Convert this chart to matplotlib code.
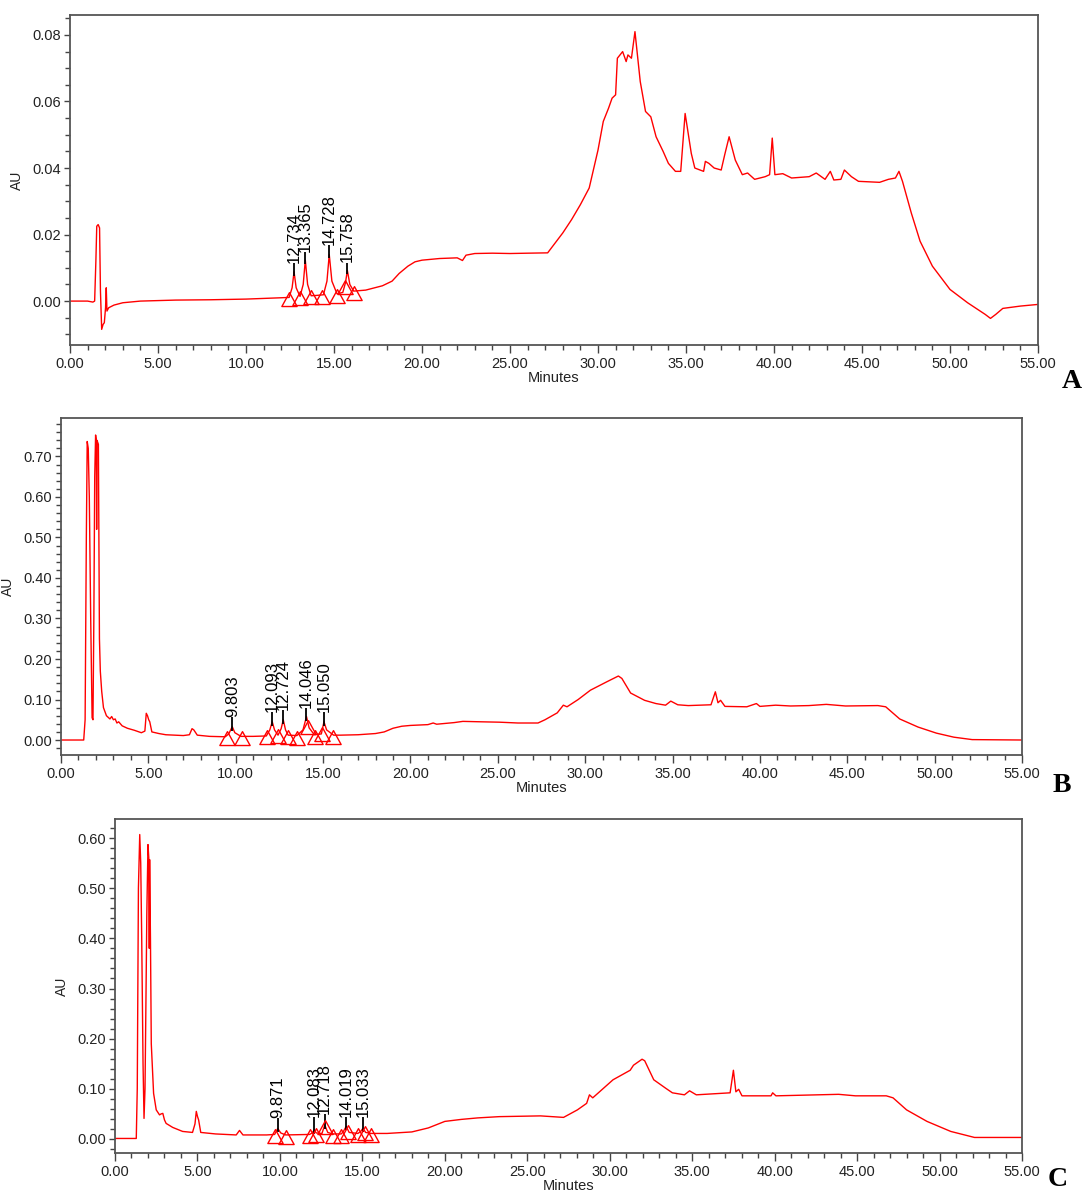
import numpy as np
import matplotlib
matplotlib.use("Agg")
import matplotlib.pyplot as plt
from matplotlib.path import Path
from matplotlib.ticker import MultipleLocator, FormatStrFormatter

plt.rcParams["font.family"] = ["Liberation Sans", "DejaVu Sans"]

# ---- panel A trace (minutes, AU) ----
a_time = [0.0, 1.0, 1.3, 1.4, 1.47, 1.52, 1.6, 1.68, 1.73, 1.8, 1.88, 1.95, 2.02, 2.06, 2.1,
          2.2, 2.5, 3.0, 4.0, 6.0, 8.0, 10.0, 12.0, 12.45, 12.62, 12.73, 12.85, 13.07, 13.25,
          13.37, 13.5, 13.7, 14.0, 14.4, 14.6, 14.73, 14.88, 15.17, 15.5, 15.65, 15.76, 15.9,
          16.12, 16.8, 17.75, 18.3, 18.7, 19.2, 19.6, 20.0, 21.0, 22.0, 22.3, 22.5, 23.0, 24.0,
          25.0, 26.0, 27.14, 28.0, 28.5, 29.0, 29.5, 30.0, 30.3, 30.6, 30.8, 31.0, 31.1, 31.4,
          31.6, 31.7, 31.9, 32.1, 32.4, 32.7, 33.0, 33.3, 33.7, 34.0, 34.4, 34.7, 34.95, 35.3,
          35.5, 36.0, 36.1, 36.3, 36.6, 37.0, 37.2, 37.45, 37.8, 38.2, 38.5, 38.9, 39.5, 39.75,
          39.9, 40.05, 40.5, 41.0, 42.0, 42.4, 42.9, 43.2, 43.4, 43.8, 44.0, 44.4, 44.8, 46.0,
          46.5, 46.9, 47.1, 47.3, 47.8, 48.3, 49.0, 50.0, 51.0, 52.0, 52.3, 52.6, 53.0, 54.0, 55.0]
a_au = [0.0, 0.0, -0.0003, 0.0, 0.012, 0.0225, 0.023, 0.022, 0.003, -0.0085, -0.007, -0.0065,
        -0.002, 0.004, -0.003, -0.002, -0.0012, -0.0005, 0.0, 0.0003, 0.0004, 0.0006, 0.001,
        0.0011, 0.004, 0.0088, 0.004, 0.0014, 0.005, 0.0123, 0.005, 0.0016, 0.0017, 0.0019,
        0.006, 0.014, 0.006, 0.0022, 0.0026, 0.0055, 0.0092, 0.005, 0.003, 0.0033, 0.0046,
        0.006, 0.0083, 0.0105, 0.0118, 0.0123, 0.0128, 0.013, 0.0122, 0.0138, 0.0143, 0.0144,
        0.0143, 0.0144, 0.0145, 0.0205, 0.0245, 0.029, 0.034, 0.0454, 0.054, 0.058, 0.061,
        0.062, 0.073, 0.075, 0.072, 0.074, 0.073, 0.081, 0.066, 0.057, 0.0554, 0.0494, 0.045,
        0.0414, 0.039, 0.039, 0.0564, 0.0444, 0.040, 0.039, 0.042, 0.0414, 0.040, 0.0394, 0.044,
        0.0494, 0.0424, 0.038, 0.0385, 0.0366, 0.0374, 0.038, 0.049, 0.038, 0.0383, 0.037,
        0.0374, 0.0385, 0.0366, 0.039, 0.0364, 0.0366, 0.0394, 0.0374, 0.036, 0.0357, 0.0366,
        0.037, 0.039, 0.036, 0.0265, 0.018, 0.0105, 0.0035, -0.0005, -0.004, -0.0052, -0.004,
        -0.0022, -0.0015, -0.001]
a_peaks = ["12.734", "13.365", "14.728", "15.758"]
a_peak_au = [0.0088, 0.0123, 0.014, 0.0092]
a_peak_top = [0.0113, 0.0148, 0.0168, 0.0116]
a_marks = [12.46, 13.07, 13.69, 14.3, 15.17, 15.62, 16.12]

# ---- panel B trace ----
b_time = [0.0, 1.3, 1.38, 1.45, 1.5, 1.56, 1.62, 1.7, 1.78, 1.83, 1.88, 1.93, 1.98, 2.02, 2.04,
          2.06, 2.1, 2.14, 2.2, 2.25, 2.33, 2.43, 2.6, 2.8, 2.9, 3.0, 3.1, 3.2, 3.3, 3.5, 3.8,
          4.2, 4.6, 4.8, 4.88, 4.95, 5.02, 5.08, 5.2, 5.6, 6.0, 7.0, 7.35, 7.5, 7.6, 7.8, 8.5,
          9.4, 9.6, 9.8, 9.95, 10.3, 11.0, 11.75, 11.95, 12.09, 12.22, 12.42, 12.6, 12.72, 12.85,
          13.0, 13.5, 13.85, 14.05, 14.2, 14.5, 14.9, 15.05, 15.2, 15.6, 16.0, 17.0, 18.0, 18.5,
          19.0, 19.5, 20.0, 21.0, 21.3, 21.5, 22.5, 23.0, 24.0, 25.1, 26.15, 27.3, 27.7, 28.4,
          28.75, 28.96, 29.6, 30.3, 31.25, 31.9, 32.1, 32.6, 33.4, 34.05, 34.6, 34.9, 35.3, 35.9,
          37.2, 37.45, 37.6, 37.75, 38.0, 39.25, 39.8, 40.0, 40.9, 41.75, 42.8, 43.8, 44.9, 46.75,
          47.2, 48.0, 49.05, 50.1, 51.1, 52.15, 55.0]
b_au = [0.0, 0.0, 0.05, 0.5, 0.737, 0.72, 0.6, 0.3, 0.055, 0.05, 0.3, 0.65, 0.753, 0.74, 0.52,
        0.74, 0.735, 0.73, 0.25, 0.17, 0.12, 0.08, 0.06, 0.052, 0.058, 0.05, 0.052, 0.042, 0.045,
        0.035, 0.029, 0.024, 0.018, 0.022, 0.066, 0.06, 0.05, 0.045, 0.02, 0.016, 0.013, 0.011,
        0.013, 0.028, 0.025, 0.012, 0.009, 0.008, 0.015, 0.033, 0.018, 0.009, 0.009, 0.01, 0.025,
        0.045, 0.025, 0.012, 0.028, 0.05, 0.025, 0.012, 0.011, 0.025, 0.058, 0.03, 0.013, 0.015,
        0.045, 0.025, 0.012, 0.012, 0.013, 0.016, 0.02, 0.029, 0.034, 0.036, 0.038, 0.042, 0.039,
        0.043, 0.046, 0.045, 0.044, 0.042, 0.042, 0.05, 0.067, 0.086, 0.082, 0.10, 0.123, 0.144,
        0.158, 0.152, 0.116, 0.098, 0.09, 0.086, 0.096, 0.087, 0.085, 0.087, 0.119, 0.092, 0.098,
        0.083, 0.082, 0.09, 0.083, 0.086, 0.084, 0.085, 0.088, 0.084, 0.085, 0.082, 0.052, 0.032,
        0.017, 0.007, 0.001, 0.0]
b_peaks = ["9.803", "12.093", "12.724", "14.046", "15.050"]
b_peak_au = [0.033, 0.045, 0.05, 0.058, 0.045]
b_peak_top = [0.056, 0.069, 0.074, 0.079, 0.069]
b_marks = [9.48, 10.34, 11.77, 12.44, 13.01, 13.49, 14.16, 14.54, 14.93, 15.59]

# ---- panel C trace ----
c_time = [0.0, 1.29, 1.35, 1.42, 1.5, 1.56, 1.62, 1.7, 1.76, 1.82, 1.88, 1.93, 2.0, 2.05, 2.08,
          2.1, 2.15, 2.2, 2.34, 2.5, 2.7, 2.8, 2.9, 3.0, 3.1, 3.5, 4.1, 4.7, 4.85, 4.93, 5.0,
          5.07, 5.2, 6.1, 7.35, 7.55, 7.76, 9.2, 9.68, 9.87, 10.05, 10.35, 11.8, 11.95, 12.08,
          12.2, 12.55, 12.72, 12.9, 13.2, 13.72, 13.85, 14.02, 14.2, 14.73, 14.9, 15.03, 15.2,
          15.54, 16.5, 17.0, 18.0, 19.0, 20.0, 21.0, 22.0, 23.3, 25.8, 27.2, 28.04, 28.6, 28.77,
          28.97, 30.2, 31.24, 31.44, 31.96, 32.12, 32.67, 33.4, 33.8, 34.53, 34.84, 35.25, 37.3,
          37.5, 37.65, 37.82, 38.02, 39.78, 39.88, 40.08, 43.88, 44.9, 46.77, 47.18, 48.0, 49.24,
          50.68, 52.12, 55.0]
c_au = [0.001, 0.001, 0.1, 0.5, 0.607, 0.55, 0.4, 0.15, 0.041, 0.1, 0.287, 0.45, 0.587, 0.56,
        0.38, 0.557, 0.4, 0.19, 0.091, 0.058, 0.048, 0.05, 0.051, 0.038, 0.031, 0.023, 0.015,
        0.013, 0.03, 0.055, 0.045, 0.038, 0.013, 0.01, 0.008, 0.017, 0.008, 0.008, 0.009, 0.021,
        0.012, 0.008, 0.009, 0.012, 0.018, 0.012, 0.011, 0.028, 0.013, 0.01, 0.01, 0.015, 0.025,
        0.013, 0.011, 0.015, 0.021, 0.013, 0.011, 0.011, 0.012, 0.014, 0.022, 0.035, 0.039,
        0.042, 0.0445, 0.046, 0.043, 0.058, 0.071, 0.088, 0.082, 0.118, 0.137, 0.147, 0.159,
        0.156, 0.118, 0.101, 0.092, 0.088, 0.096, 0.088, 0.092, 0.137, 0.094, 0.099, 0.086,
        0.086, 0.092, 0.086, 0.089, 0.086, 0.086, 0.082, 0.058, 0.035, 0.015, 0.003, 0.003]
c_peaks = ["9.871", "12.083", "12.718", "14.019", "15.033"]
c_peak_au = [0.021, 0.018, 0.028, 0.025, 0.021]
c_peak_top = [0.041, 0.043, 0.05, 0.043, 0.043]
c_marks = [9.68, 10.35, 11.8, 12.2, 12.71, 13.21, 13.72, 14.12, 14.73, 15.13, 15.54]

panels = [
    dict(time=a_time, au=a_au, peaks=a_peaks, peak_au=a_peak_au, peak_top=a_peak_top,
         marks=a_marks, box=(70, 15, 1038, 345), ylim=(-0.0132, 0.086), major=0.02, minor=0.005,
         letter="A", letter_xy=(1072, 381)),
    dict(time=b_time, au=b_au, peaks=b_peaks, peak_au=b_peak_au, peak_top=b_peak_top,
         marks=b_marks, box=(61, 418, 1022, 755), ylim=(-0.037, 0.795), major=0.1, minor=0.02,
         letter="B", letter_xy=(1062, 785)),
    dict(time=c_time, au=c_au, peaks=c_peaks, peak_au=c_peak_au, peak_top=c_peak_top,
         marks=c_marks, box=(115, 819, 1022, 1153), ylim=(-0.028, 0.638), major=0.1, minor=0.02,
         letter="C", letter_xy=(1058, 1180)),
]

W, H = 1084, 1191
fig = plt.figure(figsize=(W / 100, H / 100), dpi=100)

# open triangle hanging just below the baseline point
tri = Path([(0, 0.35), (-0.55, -0.65), (0.55, -0.65), (0, 0.35)], closed=True)

for p in panels:
    x0, y0, x1, y1 = p["box"]
    ax = fig.add_axes([x0 / W, 1 - y1 / H, (x1 - x0) / W, (y1 - y0) / H])
    ax.plot(p["time"], p["au"], color="#ff0000", lw=1.0, zorder=2)

    lo, hi = p["ylim"]
    span = hi - lo
    for rt, apex, top in zip(p["peaks"], p["peak_au"], p["peak_top"]):
        t = float(rt)
        ax.vlines(t, apex - 0.012 * span, top, color="black", lw=1.3, zorder=3)
        ax.text(t, top, rt, rotation=90, ha="center", va="bottom", fontsize=12,
                color="black", zorder=4)

    mark_y = np.interp(p["marks"], p["time"], p["au"])
    ax.plot(p["marks"], mark_y, ls="none", marker=tri, markersize=13,
            markerfacecolor="none", markeredgecolor="#ff0000", markeredgewidth=1.0, zorder=3)

    ax.set_xlim(0, 55)
    ax.set_ylim(lo, hi)
    ax.xaxis.set_major_locator(MultipleLocator(5))
    ax.xaxis.set_minor_locator(MultipleLocator(1))
    ax.yaxis.set_major_locator(MultipleLocator(p["major"]))
    ax.yaxis.set_minor_locator(MultipleLocator(p["minor"]))
    ax.xaxis.set_major_formatter(FormatStrFormatter("%.2f"))
    ax.yaxis.set_major_formatter(FormatStrFormatter("%.2f"))
    ax.tick_params(which="both", direction="out", color="#444", labelsize=10.5,
                   labelcolor="#222", width=1.0)
    ax.tick_params(axis="x", which="major", length=5.5, pad=3)
    ax.tick_params(axis="x", which="minor", length=3.5)
    ax.tick_params(axis="y", which="major", length=4.5, pad=2)
    ax.tick_params(axis="y", which="minor", length=3.5)
    for s in ax.spines.values():
        s.set_color("#555")
        s.set_linewidth(1.3)
    ax.set_xlabel("Minutes", fontsize=10.5, color="#222", labelpad=0)
    ax.set_ylabel("AU", fontsize=10, color="#222", labelpad=6)

    lx, ly = p["letter_xy"]
    fig.text(lx / W, 1 - ly / H, p["letter"], ha="center", va="center", fontsize=20,
             fontweight="bold", family="Liberation Serif")

fig.savefig("out.png", dpi=100)
